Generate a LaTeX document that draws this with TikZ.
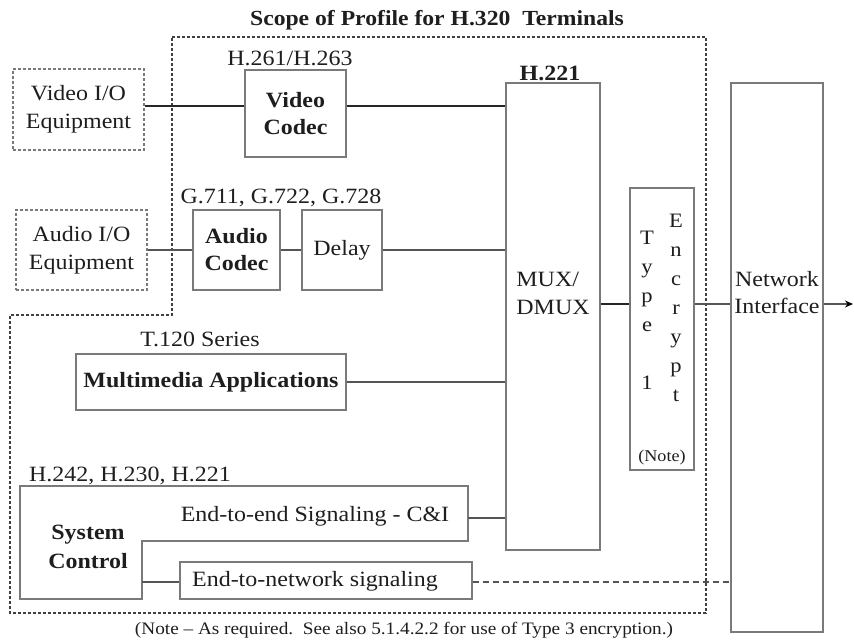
\documentclass[tikz,border=0pt]{standalone}
\usepackage{fontspec}
\setmainfont{Liberation Serif}[FakeStretch=1.1]
\usetikzlibrary{arrows.meta}
\definecolor{boxgray}{HTML}{7A7A7A}
\definecolor{linegray}{HTML}{555555}
\definecolor{txt}{HTML}{1E1E1E}
\begin{document}
\begin{tikzpicture}[x=1pt,y=-1pt,
  box/.style={draw=boxgray, line width=1.2pt, inner sep=0pt, align=center, text=txt,
    font=\fontsize{21.8}{28}\selectfont},
  iobox/.style={box, dash pattern=on 3pt off 2pt},
  bfbox/.style={box, font=\fontsize{21.8}{27}\selectfont\bfseries},
  lbl/.style={inner sep=0pt, text=txt, align=center, font=\fontsize{21.8}{28}\selectfont},
  col/.style={inner sep=0pt, text=txt, align=center, font=\fontsize{20.5}{29}\selectfont},
  conn/.style={draw=linegray, line width=1.2pt},
  scopeline/.style={draw=black!75, line width=1.3pt, dash pattern=on 3pt off 2pt}]
\useasboundingbox (0,0) rectangle (854,642);

% title
\node[lbl, font=\fontsize{21.5}{26}\selectfont\bfseries] (title) at (437,20) {Scope of Profile for H.320\ \ Terminals};

% scope boundary
\draw[scopeline] (172,37) -- (706,37) -- (706,613) -- (10,613) -- (10,315) -- (172,315) -- cycle;

% video
\node[iobox, minimum width=131pt, minimum height=81pt] (vio) at (78.5,109.5) {Video I/O\\Equipment};
\node[bfbox, minimum width=101pt, minimum height=87pt] (vcod) at (295.5,113.5) {Video\\Codec};
\node[lbl] (vcodl) at (290,58) {H.261/H.263};

% mux
\node[box, minimum width=94pt, minimum height=467pt] (mux) at (553,316.5) {};
\node[lbl, font=\fontsize{21.8}{28}\selectfont\bfseries] (muxl) at (550,73) {H.221};
\node[lbl, align=left] (muxt) at (553,293) {MUX/\\DMUX};

% audio
\node[iobox, minimum width=131pt, minimum height=80pt] (aio) at (81.5,250) {Audio I/O\\Equipment};
\node[bfbox, minimum width=87pt, minimum height=80pt] (acod) at (236.5,250) {Audio\\Codec};
\node[box, minimum width=80pt, minimum height=80pt] (delay) at (342,250) {Delay};
\node[lbl] (gl) at (281,198) {G.711, G.722, G.728};

% multimedia
\node[lbl] (tl) at (200,339) {T.120 Series};
\node[bfbox, minimum width=270pt, minimum height=56pt] (mm) at (211,382) {Multimedia Applications};

% encrypt
\node[box, minimum width=64pt, minimum height=282pt] (enc) at (662,329) {};
\node[col] (enct) at (647,310) {T\\y\\p\\e\\[29pt]1};
\node[col] (encr) at (676,308) {E\\n\\c\\r\\y\\p\\t};
\node[col, font=\fontsize{16.5}{20}\selectfont] (encn) at (662,458) {(Note)};

% network interface
\node[box, minimum width=92pt, minimum height=549pt] (ni) at (777,357.5) {};
\node[lbl, font=\fontsize{21.8}{27}\selectfont] (nit) at (777,293) {Network\\Interface};
\coordinate (nio) at (853,304);

% system control
\draw[draw=boxgray, line width=1.2pt] (20,486) -- (468,486) -- (468,541) -- (142,541) -- (142,599) -- (20,599) -- cycle;
\node[inner sep=0pt, minimum width=122pt, minimum height=113pt] (sys) at (81,542.5) {};
\node[inner sep=0pt, minimum width=326pt, minimum height=55pt] (e2e) at (305,513.5) {};
\node[lbl, font=\fontsize{21.8}{29}\selectfont\bfseries] (syst) at (88,547) {System\\Control};
\node[lbl] (e2et) at (315,516) {End-to-end Signaling - C\&I};
\node[lbl] (sysl) at (130,476) {H.242, H.230, H.221};
\node[box, minimum width=292pt, minimum height=37pt] (e2n) at (326,580.5) {};
\node[lbl] (e2nt) at (315,581) {End-to-network signaling};

% note
\node[lbl, font=\fontsize{17.5}{20}\selectfont] (note) at (404,630) {(Note -- As required.\ \ See also 5.1.4.2.2 for use of Type 3 encryption.)};

% connectors
\coordinate (vy) at (0,106);
\coordinate (my) at (0,304);
\coordinate (ey) at (0,518);
\coordinate (ny) at (0,582);
\draw[conn, draw=black!85] (vio.east |- vy) -- (vcod.west |- vy);
\draw[conn, draw=black!85] (vcod.east |- vy) -- (mux.west |- vy);
\draw[conn] (aio.east) -- (acod.west);
\draw[conn] (acod.east) -- (delay.west);
\draw[conn] (delay.east) -- (delay.east -| mux.west);
\draw[conn] (mm.east) -- (mm.east -| mux.west);
\draw[conn, draw=black!85] (mux.east |- my) -- (enc.west |- my);
\draw[conn] (enc.east |- my) -- (ni.west |- my);
\draw[conn, -{Stealth[length=8pt,width=7pt,color=black]}] (ni.east |- my) -- (nio);
\draw[conn] (e2e.east |- ey) -- (mux.west |- ey);
\draw[conn] (sys.east |- ny) -- (e2n.west |- ny);
\draw[conn, dash pattern=on 6pt off 4pt] (e2n.east |- ny) -- (ni.west |- ny);
\end{tikzpicture}
\end{document}
